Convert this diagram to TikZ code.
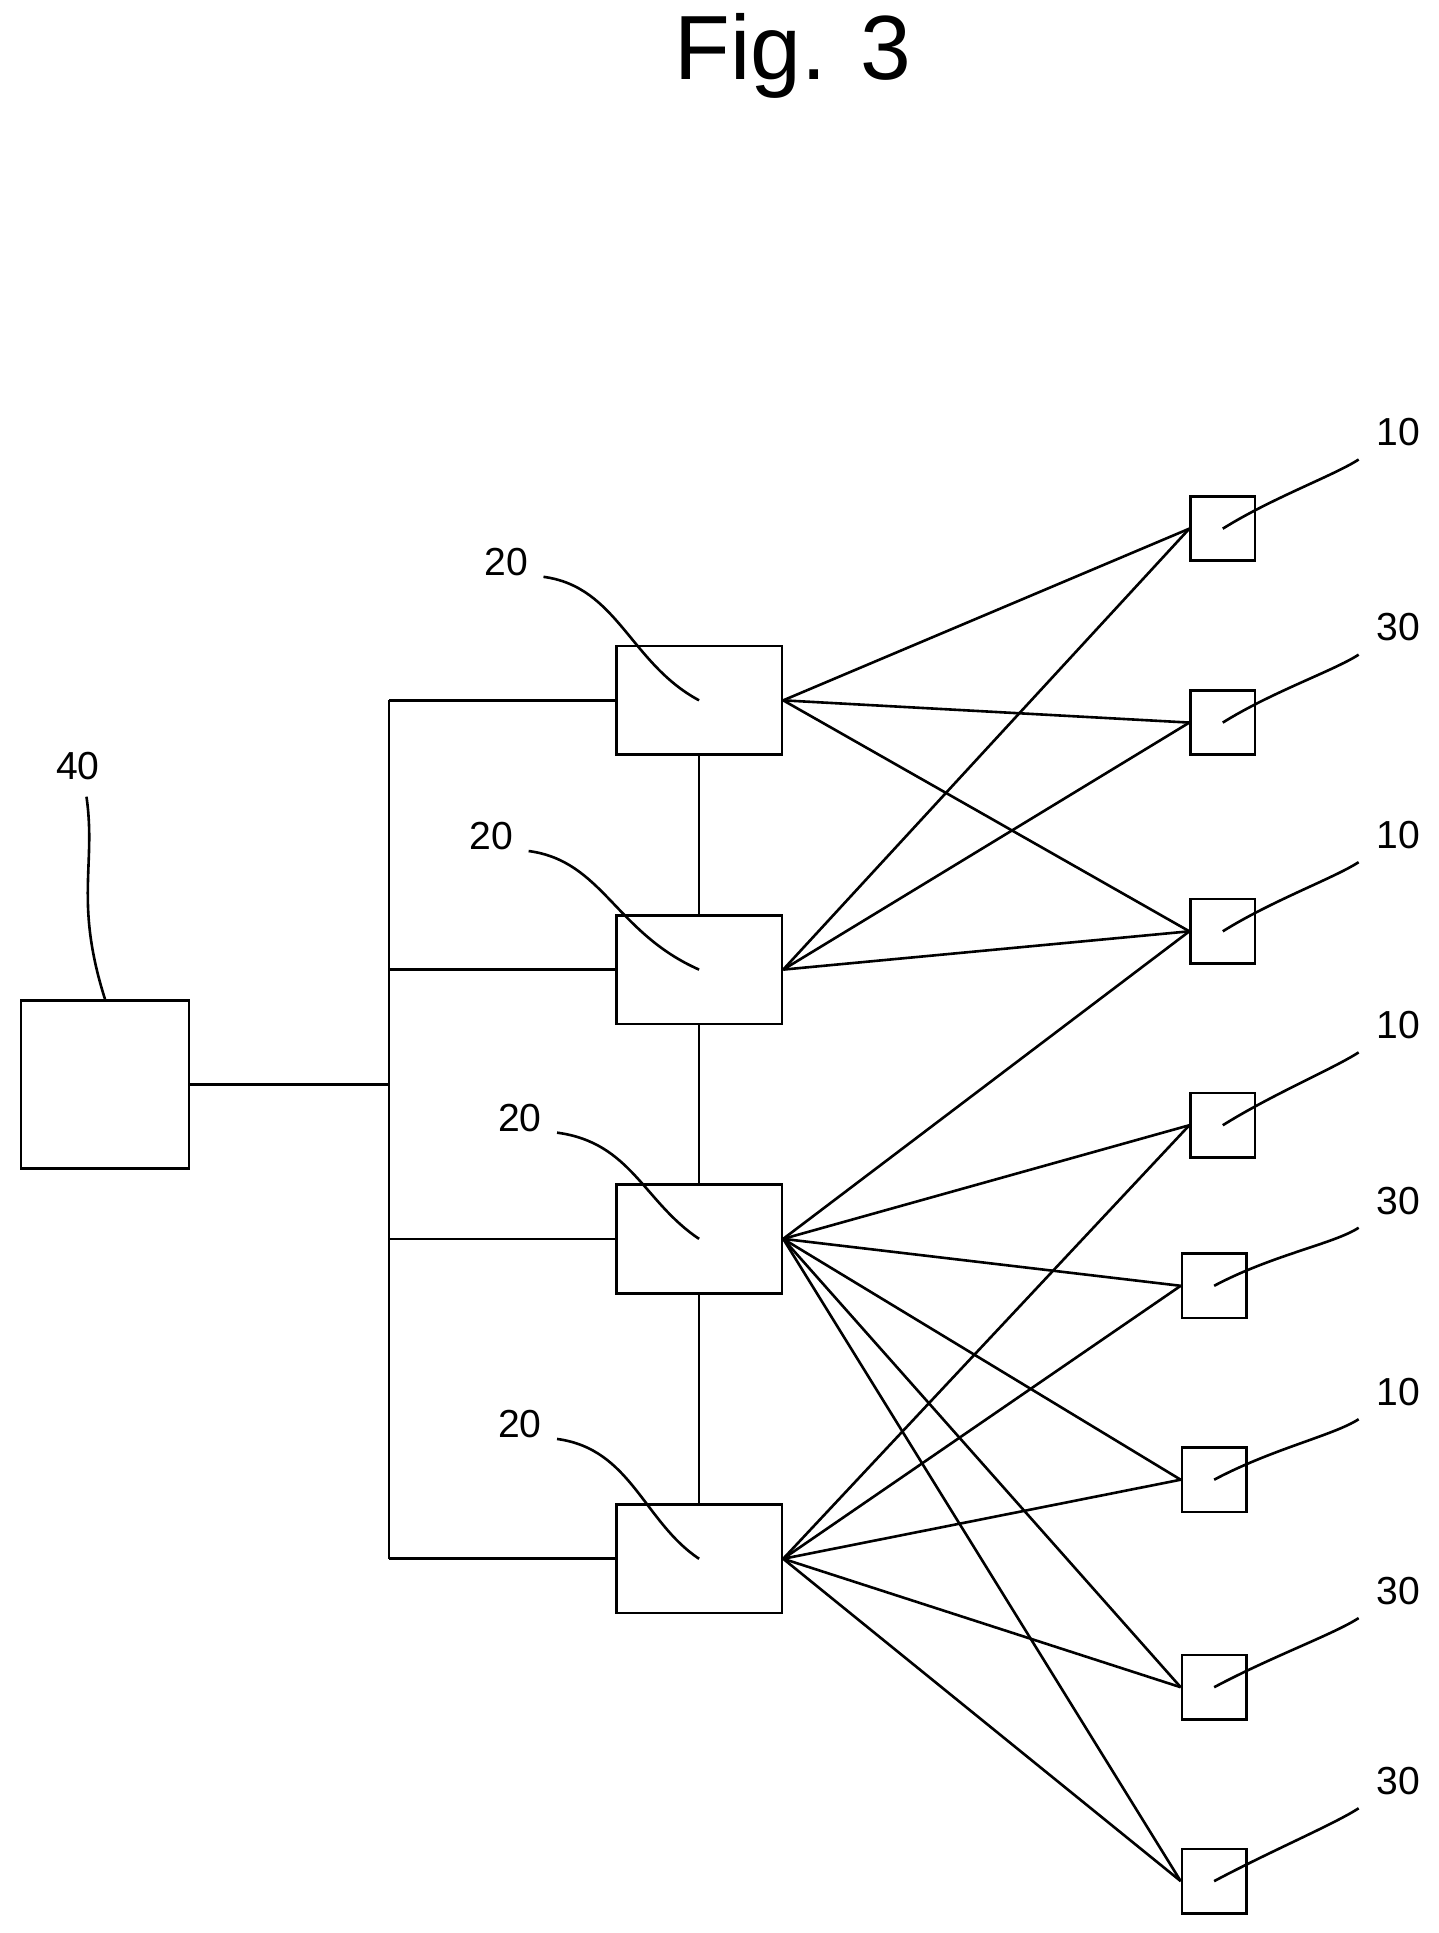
\documentclass[tikz,border=0pt]{standalone}
\usepackage{fontspec}
\setmainfont{Liberation Sans}
\begin{document}
\begin{tikzpicture}[x=0.01cm,y=-0.01cm,line width=0.6pt,
  box/.style={draw,minimum width=1.34cm,minimum height=0.88cm,inner sep=0pt},
  dev/.style={draw,minimum size=0.52cm,inner sep=0pt},
  lbl/.style={font=\fontsize{9}{10}\selectfont}]
  \useasboundingbox (0,0) rectangle (1165,1565);

  % Titel
  \node[font=\fontsize{21}{24}\selectfont] (title) at (642,45) {Fig. 3};

  % Steuerung 40
  \node[draw,minimum size=1.36cm,inner sep=0pt] (ctl) at (85,878) {};
  \node[lbl] (l40) at (63,620) {40};
  \draw (70,645) .. controls (78,700) and (60,730) .. (ctl.north);

  % Knoten 20
  \foreach \n/\y/\lx/\ly in {a/567/410/455, b/785/398/677, c/1003/421/905, d/1262/421/1153} {
    \node[box] (hub\n) at (566,\y) {};
    \node[lbl] (lhub\n) at (\lx,\ly) {20};
    \draw (\lx+30,\ly+12) .. controls (\lx+90,\ly+20) and (\lx+100,\y-\ly-30+\ly) .. (hub\n.center);
    \draw (315,\y) -- (hub\n.west);
  }
  \draw (315,567) -- (315,1262);
  \draw (ctl.east) -- (315,878);
  \draw (huba) -- (hubb) -- (hubc) -- (hubd);

  % Geraete 10 / 30
  \foreach \n/\x/\y/\t/\ly in {p/990/428/10/350, q/990/585/30/508, r/990/754/10/676,
      s/990/911/10/830, t/983/1041/30/972, u/983/1198/10/1127,
      v/983/1366/30/1288, w/983/1523/30/1442} {
    \node[dev] (dev\n) at (\x,\y) {};
    \node[lbl] (ldev\n) at (1132,\ly) {\t};
    \draw (dev\n.center) .. controls (1030,\y-25) and (1080,\ly+35) .. (1100,\ly+22);
  }

  % Verbindungen
  \foreach \h/\d in {a/p, a/q, a/r, b/p, b/q, b/r,
      c/r, c/s, c/t, c/u, c/v, c/w, d/s, d/t, d/u, d/v, d/w}
    \draw (hub\h.east) -- (dev\d.west);
\end{tikzpicture}
\end{document}
